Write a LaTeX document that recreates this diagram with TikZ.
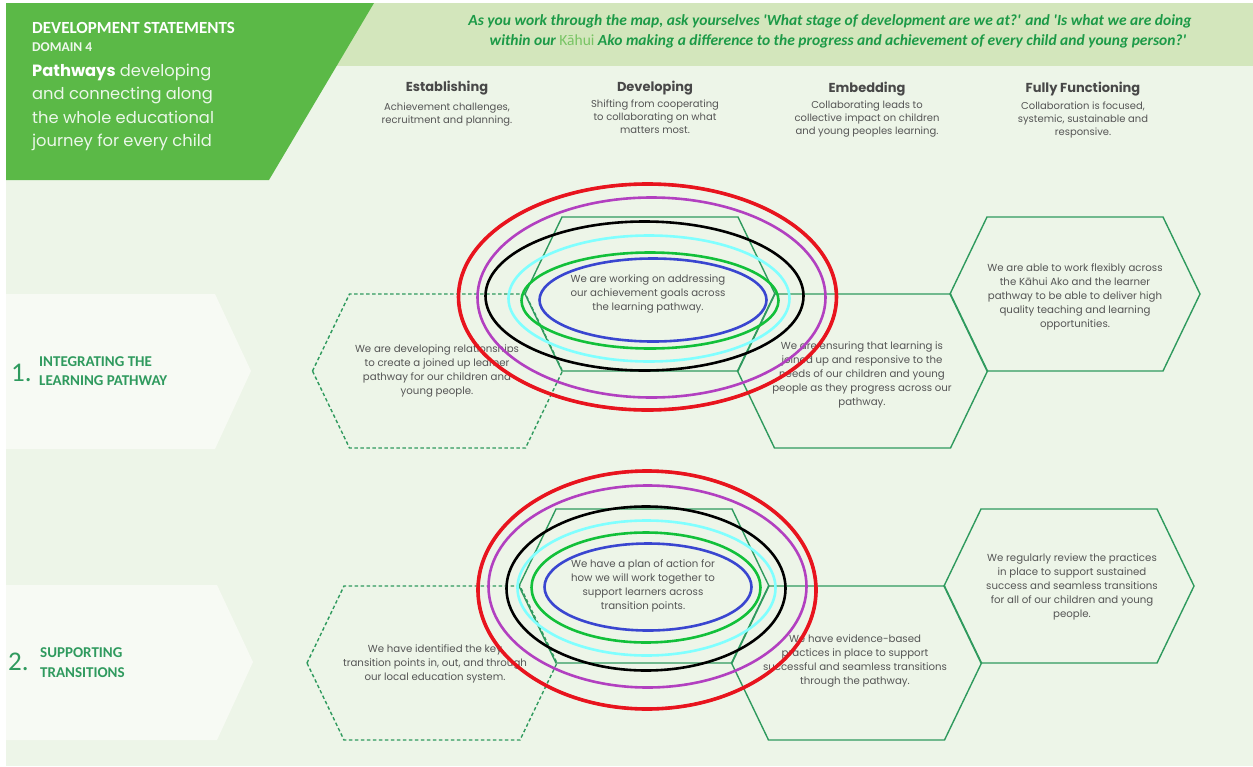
\documentclass[tikz,border=0pt]{standalone}
\usepackage{fontspec}
\setmainfont{Poppins}
\newfontfamily\calfont{Carlito}
\usetikzlibrary{positioning}

\definecolor{pagegreen}{RGB}{237,245,232}
\definecolor{bandgreen}{RGB}{211,230,188}
\definecolor{boxgreen}{RGB}{91,185,71}
\definecolor{tabwhite}{RGB}{247,250,244}
\definecolor{hexgreen}{RGB}{47,154,94}
\definecolor{headgreen}{RGB}{28,154,71}
\definecolor{kahuigreen}{RGB}{120,196,100}
\definecolor{bodygray}{RGB}{85,85,85}
\definecolor{headgray}{RGB}{72,72,72}
\definecolor{ringred}{RGB}{232,20,30}
\definecolor{ringpurple}{RGB}{178,64,192}
\definecolor{ringcyan}{RGB}{128,255,255}
\definecolor{ringgreen}{RGB}{18,192,58}
\definecolor{ringblue}{RGB}{58,70,208}

\begin{document}
\begin{tikzpicture}[
            x=1pt, y=-1pt,
            hexline/.style={draw=hexgreen, line width=1.4pt, line join=miter},
            hexdash/.style={hexline, dash pattern=on 3.5pt off 2.5pt},
            celltext/.style={align=center, text=bodygray, font=\fontsize{10.2}{13.8}\selectfont, inner sep=0pt},
            colhead/.style={text=headgray, font=\fontsize{13}{14}\selectfont\bfseries, inner sep=0pt},
            coldesc/.style={align=center, text=bodygray, font=\fontsize{10}{13}\selectfont, inner sep=0pt},
            rowname/.style={anchor=base west, text=hexgreen, font=\calfont\fontsize{15}{16}\selectfont\bfseries, inner sep=0pt},
            rownum/.style={anchor=base west, text=hexgreen, font=\calfont\fontsize{27}{27}\selectfont, inner sep=0pt},
            ring/.style={line width=2.6pt}
        ]
            \useasboundingbox (0,0) rectangle (1253,766);
            \fill[white] (0,0) rectangle (1253,766);
            \fill[pagegreen] (6,3) rectangle (1253,766);
            \fill[bandgreen] (330,3) rectangle (1253,66);
            \fill[boxgreen] (6,3) -- (374,3) -- (269,180) -- (6,180) -- cycle;

            % Title block
            \node[anchor=base west, inner sep=0pt, text=white, font=\calfont\fontsize{17}{18}\selectfont\bfseries] (title) at (32,33) {DEVELOPMENT STATEMENTS};
            \node[anchor=base west, inner sep=0pt, text=white!90!boxgreen, font=\calfont\fontsize{13.5}{14}\selectfont\bfseries] (domain) at (32,51) {DOMAIN 4};
            \node[anchor=north west, align=left, inner sep=0pt, text=white!88!boxgreen, font=\fontsize{16.3}{23.3}\selectfont] (theme) at (32,64) {\textbf{\textcolor{white}{Pathways}} developing\\and connecting along\\the whole educational\\journey for every child};

            \node[align=center, inner sep=0pt, text=headgreen, font=\calfont\fontsize{15.5}{20}\selectfont\bfseries\itshape] (prompt) at (830,31)
                {As you work through the map, ask yourselves 'What stage of development are we at?' and 'Is what we are doing\\
                 \hspace*{16pt}within our {\mdseries\upshape\textcolor{kahuigreen}{Kāhui}} Ako making a difference to the progress and achievement of every child and young person?'};

            % Stage headings
            \node[colhead] (hest) at (447,88) {Establishing};
            \node[colhead] (hdev) at (655,88) {Developing};
            \node[colhead] (hemb) at (867,89) {Embedding};
            \node[colhead] (hful) at (1083,89) {Fully Functioning};
            \node[coldesc, below=7pt of hest] (dest) {Achievement challenges,\\recruitment and planning.};
            \node[coldesc, below=4pt of hdev] (ddev) {Shifting from cooperating\\to collaborating on what\\matters most.};
            \node[coldesc, below=4pt of hemb] (demb) {Collaborating leads to\\collective impact on children\\and young peoples learning.};
            \node[coldesc, below=5pt of hful] (dful) {Collaboration is focused,\\systemic, sustainable and\\responsive.};

            % Row tabs
            \fill[tabwhite] (6,294) -- (215,294) -- (251,371) -- (215,449) -- (6,449) -- cycle;
            \fill[tabwhite] (6,585) -- (217,585) -- (253,662) -- (217,740) -- (6,740) -- cycle;
            \node[rownum] (num1) at (11,381) {1.};
            \node[rowname] (row1a) at (39,366) {INTEGRATING THE};
            \node[rowname] (row1b) at (39,385) {LEARNING PATHWAY};
            \node[rownum] (num2) at (8,670) {2.};
            \node[rowname] (row2a) at (40,657) {SUPPORTING};
            \node[rowname] (row2b) at (40,677) {TRANSITIONS};

            % Hexagon cells
            \foreach \cx/\cy/\kind in {437.5/371/hexdash, 650/294/hexline, 862.5/371/hexline, 1075/294/hexline,
                                        432/663/hexdash, 644/586/hexline, 856.5/663/hexline, 1069/586/hexline}
                \draw[\kind] ({\cx-125},\cy) -- ({\cx-88},{\cy-77}) -- ({\cx+88},{\cy-77}) -- ({\cx+125},\cy)
                    -- ({\cx+88},{\cy+77}) -- ({\cx-88},{\cy+77}) -- cycle;

            \node[celltext] (c1est) at (437,371) {We are developing relationships\\to create a joined up learner\\pathway for our children and\\young people.};
            \node[celltext] (c1dev) at (648,294) {We are working on addressing\\our achievement goals across\\the learning pathway.};
            \node[celltext] (c1emb) at (862,375) {We are ensuring that learning is\\joined up and responsive to the\\needs of our children and young\\people as they progress across our\\pathway.};
            \node[celltext] (c1ful) at (1075,297) {We are able to work flexibly across\\the Kāhui Ako and the learner\\pathway to be able to deliver high\\quality teaching and learning\\opportunities.};
            \node[celltext] (c2est) at (435,664) {We have identified the key\\transition points in, out, and through\\our local education system.};
            \node[celltext] (c2dev) at (643,586) {We have a plan of action for\\how we will work together to\\support learners across\\transition points.};
            \node[celltext] (c2emb) at (855,661) {We have evidence-based\\practices in place to support\\successful and seamless transitions\\through the pathway.};
            \node[celltext] (c2ful) at (1072,587) {We regularly review the practices\\in place to support sustained\\success and seamless transitions\\for all of our children and young\\people.};

            % Rings drawn over the developing stage
            \foreach \cx/\cy/\rx/\ry/\col in {647.5/297/189/113/ringred, 651.5/297.5/174/100/ringpurple, 644.5/296/159/74.5/black,
                                               649/298.5/140.5/63/ringcyan, 650/300.5/128.5/48/ringgreen, 653/300/113.5/41.5/ringblue,
                                               647/590/169/119/ringred, 647.5/586.5/159/101/ringpurple, 646/588.5/139.5/82/black,
                                               646.5/588/129/67.5/ringcyan, 646/587.5/114.5/55/ringgreen, 648/587/103.5/43.5/ringblue}
                \draw[ring, draw=\col] (\cx,\cy) ellipse [x radius=\rx, y radius=\ry];
            \draw[ring, draw=ringred, line width=3.6pt] (647.5,297) ellipse [x radius=189, y radius=113];
            \draw[ring, draw=ringred, line width=3.6pt] (647,590) ellipse [x radius=169, y radius=119];
        \end{tikzpicture}
\end{document}
